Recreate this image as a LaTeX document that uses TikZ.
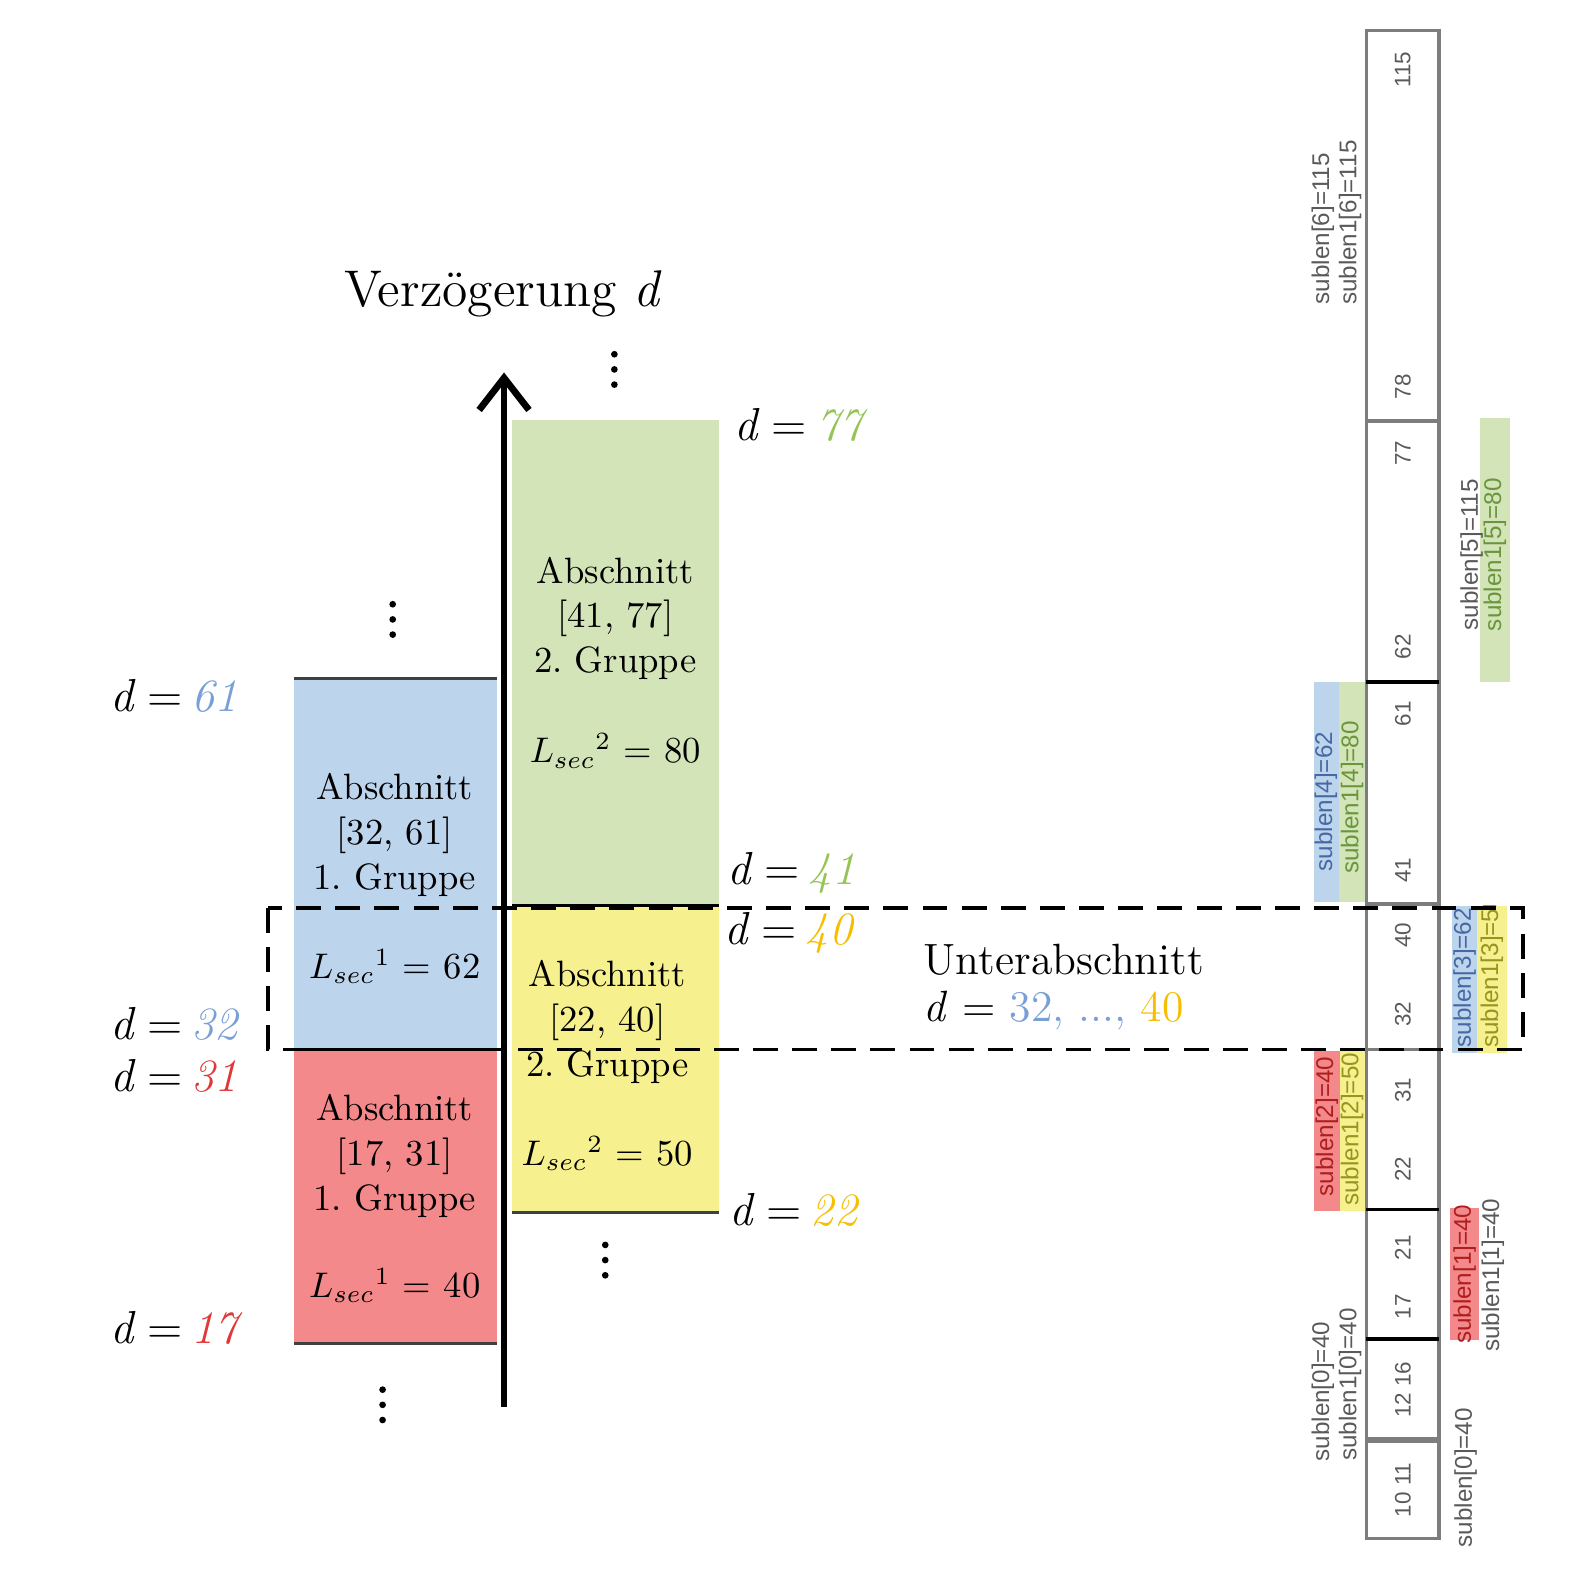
\documentclass[tikz,border=0pt]{standalone}
\usepackage{fontspec}
\newfontfamily\sansf{Liberation Sans}
\usetikzlibrary{arrows.meta}
\frenchspacing
\definecolor{bfill}{RGB}{189,212,237}
\definecolor{rfill}{RGB}{243,137,138}
\definecolor{gfill}{RGB}{211,228,184}
\definecolor{yfill}{RGB}{246,240,143}
\definecolor{bnum}{RGB}{120,160,215}
\definecolor{rnum}{RGB}{225,55,55}
\definecolor{gnum}{RGB}{150,195,85}
\definecolor{ynum}{RGB}{245,190,0}
\definecolor{btxt}{RGB}{70,105,165}
\definecolor{gtxt}{RGB}{105,150,60}
\definecolor{rtxt}{RGB}{175,30,30}
\definecolor{ytxt}{RGB}{150,150,30}
\definecolor{ltxt}{RGB}{90,90,90}
\definecolor{barline}{RGB}{125,125,125}
\newcommand{\deq}[2]{\textit{d}\hspace{0.25em}=\hspace{0.2em}\textit{\textcolor{#1}{#2}}}
\begin{document}
\begin{tikzpicture}[x=0.01cm,y=-0.01cm,
  boxtext/.style={align=center,font=\fontsize{10.3}{12.6}\selectfont,inner sep=0pt},
  lsec/.style={font=\fontsize{10.3}{12}\selectfont,inner sep=0pt},
  dlab/.style={font=\fontsize{13}{15}\selectfont,inner sep=0pt,anchor=west},
  barnum/.style={font=\sansf\fontsize{6.3}{7}\selectfont,text=ltxt,rotate=90,inner sep=0pt},
  sub/.style={font=\sansf\fontsize{6.8}{7.5}\selectfont,rotate=90,inner sep=0pt},
  edge/.style={line width=0.8pt,draw=black!75},
  divider/.style={line width=1pt}]
\useasboundingbox (0,0) rectangle (1564,1567);

% ---------- boxes ----------
\fill[bfill] (290,670) rectangle (491,1037);
\fill[rfill] (290,1037) rectangle (491,1327);
\fill[gfill] (506,415) rectangle (710,895);
\fill[yfill] (506,895) rectangle (710,1198);
\draw[edge] (290,670) -- (491,670);
\draw[edge] (290,1327) -- (491,1327);
\draw[edge,draw=black] (290,1037) -- (491,1037);
\draw[edge,draw=black] (506,895) -- (710,895);
\draw[edge] (506,1198) -- (710,1198);

% ---------- box texts ----------
\node[boxtext] (tb) at (390,825) {Abschnitt\\{}[32, 61]\\1. Gruppe};
\node[lsec] (lb) at (390,955) {$L_{sec}{}^{1}$ = 62};
\node[boxtext] (tr) at (390,1142) {Abschnitt\\{}[17, 31]\\1. Gruppe};
\node[lsec] (lr) at (390,1270) {$L_{sec}{}^{1}$ = 40};
\node[boxtext] (tg) at (608,611) {Abschnitt\\{}[41, 77]\\2. Gruppe};
\node[lsec] (lg) at (608,742) {$L_{sec}{}^{2}$ = 80};
\node[boxtext] (ty) at (600,1010) {Abschnitt\\{}[22, 40]\\2. Gruppe};
\node[lsec] (ly) at (600,1140) {$L_{sec}{}^{2}$ = 50};

% ---------- axis ----------
\coordinate (ax0) at (498,1390);
\coordinate (ax1) at (498,368);
\draw[line width=1.9pt,-{Straight Barb[length=9pt,width=14pt]}] (ax0) -- (ax1);
\node[font=\fontsize{14.5}{17}\selectfont] (title) at (497,290) {Verzögerung \textit{d}};

% ---------- vertical dots ----------
\foreach \x/\y in {607/365, 388/612, 598/1245, 378/1388}{
  \fill (\x,\y-15) circle (3.3);
  \fill (\x,\y) circle (3.3);
  \fill (\x,\y+15) circle (3.3);
}

% ---------- d labels ----------
\node[dlab] (l61) at (108,688) {\deq{bnum}{61}};
\node[dlab] (l32) at (108,1012) {\deq{bnum}{32}};
\node[dlab] (l31) at (108,1063) {\deq{rnum}{31}};
\node[dlab] (l17) at (108,1312) {\deq{rnum}{17}};
\node[dlab] (l77) at (725,420) {\deq{gnum}{77}};
\node[dlab] (l41) at (718,862) {\deq{gnum}{41}};
\node[dlab] (l40) at (715,922) {\deq{ynum}{40}};
\node[dlab] (l22) at (720,1195) {\deq{ynum}{22}};

\node[font=\fontsize{12.3}{14}\selectfont,anchor=west,inner sep=0pt] (ua) at (912,948) {Unterabschnitt};
\node[font=\fontsize{12.3}{14}\selectfont,anchor=west,inner sep=0pt] (ub) at (912,998) {\textit{d} = \textcolor{bnum}{32, ..., }\textcolor{ynum}{40}};

% ---------- right column strips ----------
\fill[bfill] (1298,674) rectangle (1323,891);
\fill[gfill] (1323,674) rectangle (1349,891);
\fill[rfill] (1298,1038) rectangle (1324,1196);
\fill[yfill] (1324,1038) rectangle (1349,1196);
\fill[gfill] (1462,413) rectangle (1492,674);
\fill[bfill] (1435,895) rectangle (1459,1040);
\fill[yfill] (1459,895) rectangle (1489,1040);
\fill[rfill] (1433,1194) rectangle (1461,1324);

% ---------- bar ----------
\draw[barline,line width=1pt] (1350,30) rectangle (1422,1520);
\draw[barline,divider] (1350,416) -- (1422,416);
\draw[black,divider] (1350,674) -- (1422,674);
\draw[barline,divider] (1350,893) -- (1422,893);
\draw[barline,divider] (1350,1037) -- (1422,1037);
\draw[black,divider] (1350,1195) -- (1422,1195);
\draw[black,divider] (1350,1323) -- (1422,1323);
\draw[barline,line width=1.6pt] (1350,1423) -- (1422,1423);

\node[barnum] (n115) at (1386,69) {115};
\node[barnum] (n78) at (1386,382) {78};
\node[barnum] (n77) at (1386,448) {77};
\node[barnum] (n62) at (1386,639) {62};
\node[barnum] (n61) at (1386,705) {61};
\node[barnum] (n41) at (1386,860) {41};
\node[barnum] (n40) at (1386,924) {40};
\node[barnum] (n32) at (1386,1002) {32};
\node[barnum] (n31) at (1386,1077) {31};
\node[barnum] (n22) at (1386,1155) {22};
\node[barnum] (n21) at (1386,1233) {21};
\node[barnum] (n17) at (1386,1291) {17};
\node[barnum] (n1216) at (1386,1373) {12 16};
\node[barnum] (n1011) at (1386,1472) {10 11};

% ---------- sublen labels ----------
\node[sub,text=ltxt] (s6) at (1307,226) {sublen[6]=115};
\node[sub,text=ltxt] (s16) at (1334,220) {sublen1[6]=115};
\node[sub,text=btxt] (s4) at (1310,792) {sublen[4]=62};
\node[sub,text=gtxt] (s14) at (1336,788) {sublen1[4]=80};
\node[sub,text=rtxt] (s2) at (1311,1113) {sublen[2]=40};
\begin{scope}
\clip (1324,1038) rectangle (1349,1196);
\node[sub,text=ytxt,anchor=west] (s12) at (1336,1192) {sublen1[2]=50};
\end{scope}
\node[sub,text=ltxt] (s0) at (1307,1375) {sublen[0]=40};
\node[sub,text=ltxt] (s10) at (1334,1368) {sublen1[0]=40};
\node[sub,text=ltxt] (s5) at (1454,548) {sublen[5]=115};
\node[sub,text=gtxt] (s15) at (1477,548) {sublen1[5]=80};
\node[sub,text=btxt] (s3) at (1447,966) {sublen[3]=62};
\begin{scope}
\clip (1459,895) rectangle (1489,1040);
\node[sub,text=ytxt,anchor=west] (s13) at (1474,1036) {sublen1[3]=50};
\end{scope}
\node[sub,text=rtxt] (s1) at (1447,1259) {sublen[1]=40};
\node[sub,text=ltxt] (s11) at (1475,1260) {sublen1[1]=40};
\node[sub,text=ltxt] (s0b) at (1448,1460) {sublen[0]=40};

% ---------- dashed sub-section frame ----------
\draw[line width=1pt,dash pattern=on 7pt off 4pt] (265,897) rectangle (1505,1037);
\end{tikzpicture}
\end{document}
